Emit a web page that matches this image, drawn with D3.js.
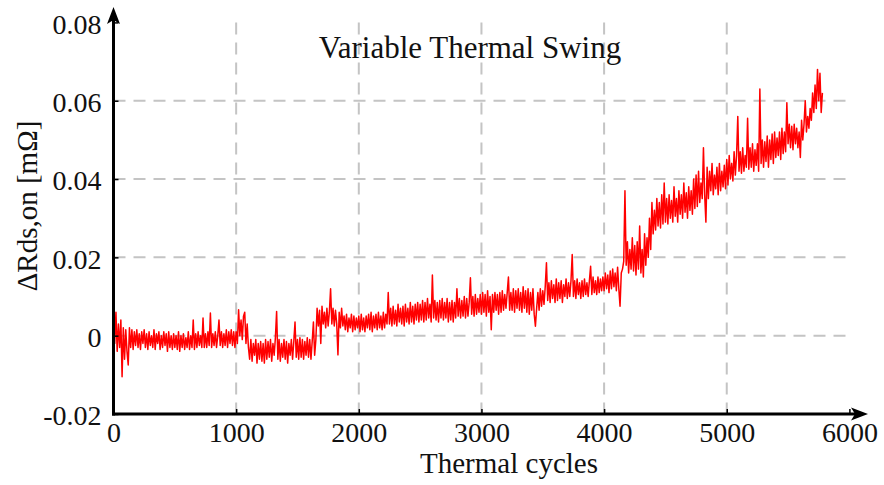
<!DOCTYPE html>
<html><head><meta charset="utf-8">
<script src="https://cdn.jsdelivr.net/npm/d3@7"></script>
<style>body{margin:0;background:#fff} svg{display:block}</style>
</head><body><svg id="c" width="884" height="485"></svg>
<script>
const chartTitle = "Variable Thermal Swing";
const xLabel = "Thermal cycles";
const yLabel = "ΔRds,on [mΩ]";
const xTicks = [0, 1000, 2000, 3000, 4000, 5000, 6000];
const yTicks = [-0.02, 0, 0.02, 0.04, 0.06, 0.08];
const yTickLabels = ["-0.02", "0", "0.02", "0.04", "0.06", "0.08"];
const xGrid = [1000, 2000, 3000, 4000, 5000];
const yGrid = [0, 0.02, 0.04, 0.06];
const cycleStep = 10;
const deltaRdsOn_uOhm = [
  5,-2,6,-4,3,-3,4,-10.5,2,-6,1.5,-4,-7.5,2,-3,1.5,-3.5,1,-2.5,1.5,-3,0.5,-3.5,1,-2,
  1.5,-3,0.5,-3.5,1,-2.5,0,-3,1.5,-3.5,0.5,-2,1,-3.5,0,-3,1,-2.5,0.5,-4,1,-3,0,-3.5,0.5,
  -3,0,-3.5,1,-4,0,-3,0.5,-3.5,-0.5,-3,1,-3.5,0,-3,4,-3.5,0.5,-3,1,-2.5,0,-3,4.5,-3,
  0.5,-3,1,-2.5,5.8,-3,0.5,-2.5,1,-3,0,4,-2.5,1,-3,0.5,-2.5,1.5,-3,1,-2,1.5,-2.5,1,-3,
  1,-2,6.6,0,4,-1,5,6,-2,3,-3,-6,-1,-6.5,-2,-5,-1,-7,-2,-6,-1.5,-6.5,-2,-7,-1,
  -6,-1.5,-5.5,-1,-6.5,-2,-5,-0.5,6.2,-6,-1,-6.5,-2,-5.5,-1,-6,-1.5,-7,-2,-5,-1,-6,-1.5,3.5,-5.5,
  -1,-6,-0.5,-5.5,-1,-6,-1.5,-5,-0.5,-5.5,-1,-6,-1.5,3.5,-5,-1,7,2.5,6.5,-2,7.5,3,6,2,7,
  2.5,6,12,3,7,2.5,6.5,3,-4.9,6,2,7,2.5,5,1.5,5.5,1,4.5,2,5.5,1,5,1.5,4.5,2,
  5,1,5.5,1.5,4.5,1,5,2,5.5,1.5,6,1,5,2,5.5,1.5,6,2,5,1.5,6,2,5.5,3,11,
  3,7,2.5,7.5,3,6.5,2.5,8,3.5,7,3,7.5,2.5,8,3.5,7,3,8.5,3.5,7.5,3,8,4,8.5,3.5,
  8,4,9,3.5,8.5,4,9.5,4.5,8,3.5,15.5,4.5,9,4,8.5,3.5,9,4.5,9.5,4,8.5,4.5,9.5,3.5,8.5,
  4,9,3.5,8.5,4.5,12,5,9.5,4.5,9,5,10,4.5,9.5,5,8.5,14.8,5.5,10,5,10.5,5.5,9.5,6,10.5,
  5.5,11,6,10.5,5,11.5,6,10,1.5,10.5,6,11,6.5,10.5,5.5,11,6,11.5,6.5,10.5,7,11,15,6.5,11,
  6.5,12,6,11.5,7,12,6.5,11,6,12.5,7,11.5,6,12,5.5,11,6.5,12,5.5,2.4,7,11,6.5,12,7.5,
  11.5,8,12.5,18.6,9,13.5,8.5,14,9.5,13,8.5,14.5,9,13.5,9.5,14,8.5,13,10,14.5,9.5,13.5,10,14,20.7,
  10,14,9.5,14.5,10.5,13.5,9.5,14,10,14.5,10.5,13.5,10,14,17.7,10.5,15,11,14,10.5,15,11,14.5,11.5,15,
  11.5,16,12,15.5,11,16.5,12,17,12.5,16,11.5,17.5,12,7.5,16,17,19,37,18,24,16,22,17,25,16.5,
  23,15.5,24,17,28,16,22,15,26,18,25,20,30,22,34,26,32,27,35,28,34,27.5,36,28.5,39,
  29,35,28.5,36,30,34.5,29,38,30.5,35,29,37,31,36,30,39,31.5,36.5,30,38,32,37,31,40,32.5,
  41,33,42,34,39,35,48,36,29,43,35,42,37,44,36,41,37.5,43,36,44,37,42,38,43.5,37.5,
  45,38.5,46,40,44,39.5,47,41,46,56,42,47,41.5,48,42,46,43,55.5,42.5,48,43,49,42,47.5,43.5,
  49,42,63,44,50,43,49.5,44.5,51,43,50,45,51.5,44,52,45.5,50.5,46,52,45,53,46.5,52,47,59.5,
  49,54,48,53.5,47.5,54,49,53,48,52,45.5,55,50,54,60,52,56,53,58,55,62,57,64,58,68,
  60,67,57,62
];

const data = deltaRdsOn_uOhm.map((v, i) => ({ cycle: i * cycleStep, r: v / 1000 }));

const FONT = "'Liberation Serif','Times New Roman',serif";
const svg = d3.select("#c");
const x = d3.scaleLinear().domain([0, 6000]).range([113.5, 849.4]);
const y = d3.scaleLinear().domain([-0.02, 0.08]).range([414, 22.4]);

// grid
const grid = svg.append("g").attr("stroke", "#c4c4c4").attr("stroke-width", 2)
  .attr("stroke-dasharray", "12,8");
grid.selectAll(".vg").data(xGrid).join("line")
  .attr("x1", d => x(d)).attr("x2", d => x(d))
  .attr("y1", y(0.08)).attr("y2", y(-0.02));
grid.selectAll(".hg").data(yGrid).join("line")
  .attr("x1", x(0)).attr("x2", x(6000))
  .attr("y1", d => y(d)).attr("y2", d => y(d));

// data line
svg.append("path").datum(data)
  .attr("fill", "none").attr("stroke", "#ff0000").attr("stroke-width", 1.5)
  .attr("stroke-linejoin", "round")
  .attr("d", d3.line().x(d => x(d.cycle)).y(d => y(d.r)));

// axes
const xAxis = svg.append("g").attr("transform", `translate(0,${y(-0.02)})`)
  .call(d3.axisBottom(x).tickValues(xTicks).tickSize(-5).tickFormat(d3.format("d")));
xAxis.select(".domain").remove();
xAxis.selectAll(".tick line").attr("stroke", "#000").attr("stroke-width", 1.5);
xAxis.selectAll(".tick text").attr("y", 28).attr("dy", null)
  .attr("font-family", FONT).attr("font-size", 28).attr("fill", "#111");

const yAxis = svg.append("g").attr("transform", `translate(${x(0)},0)`)
  .call(d3.axisLeft(y).tickValues(yTicks).tickSize(-5).tickFormat((d, i) => yTickLabels[i]));
yAxis.select(".domain").remove();
yAxis.selectAll(".tick line").attr("stroke", "#000").attr("stroke-width", 1.5);
yAxis.selectAll(".tick text").attr("x", -12).attr("dy", "0.38em")
  .attr("font-family", FONT).attr("font-size", 28).attr("fill", "#111");

// axis lines with arrows
const x0 = x(0), yb = y(-0.02);
svg.append("line").attr("x1", x0).attr("x2", x0).attr("y1", yb + 1.5).attr("y2", 14)
  .attr("stroke", "#000").attr("stroke-width", 3);
svg.append("line").attr("x1", x0 - 1.5).attr("x2", 860).attr("y1", yb).attr("y2", yb)
  .attr("stroke", "#000").attr("stroke-width", 3);
svg.append("path").attr("fill", "#000")
  .attr("d", `M${x0},7 L${x0 + 6.5},24 L${x0},20 L${x0 - 6.5},24 Z`);
svg.append("path").attr("fill", "#000")
  .attr("d", `M868,${yb} L851,${yb - 6.5} L855,${yb} L851,${yb + 6.5} Z`);

// texts
svg.append("text").attr("x", 470).attr("y", 58).attr("text-anchor", "middle")
  .attr("font-family", FONT).attr("font-size", 31).attr("fill", "#111").text(chartTitle);
svg.append("text").attr("x", 509).attr("y", 473).attr("text-anchor", "middle")
  .attr("font-family", FONT).attr("font-size", 29).attr("fill", "#111").text(xLabel);
svg.append("text").attr("transform", "translate(37,206) rotate(-90)").attr("text-anchor", "middle")
  .attr("font-family", FONT).attr("font-size", 29).attr("fill", "#111").text(yLabel);
</script></body></html>
